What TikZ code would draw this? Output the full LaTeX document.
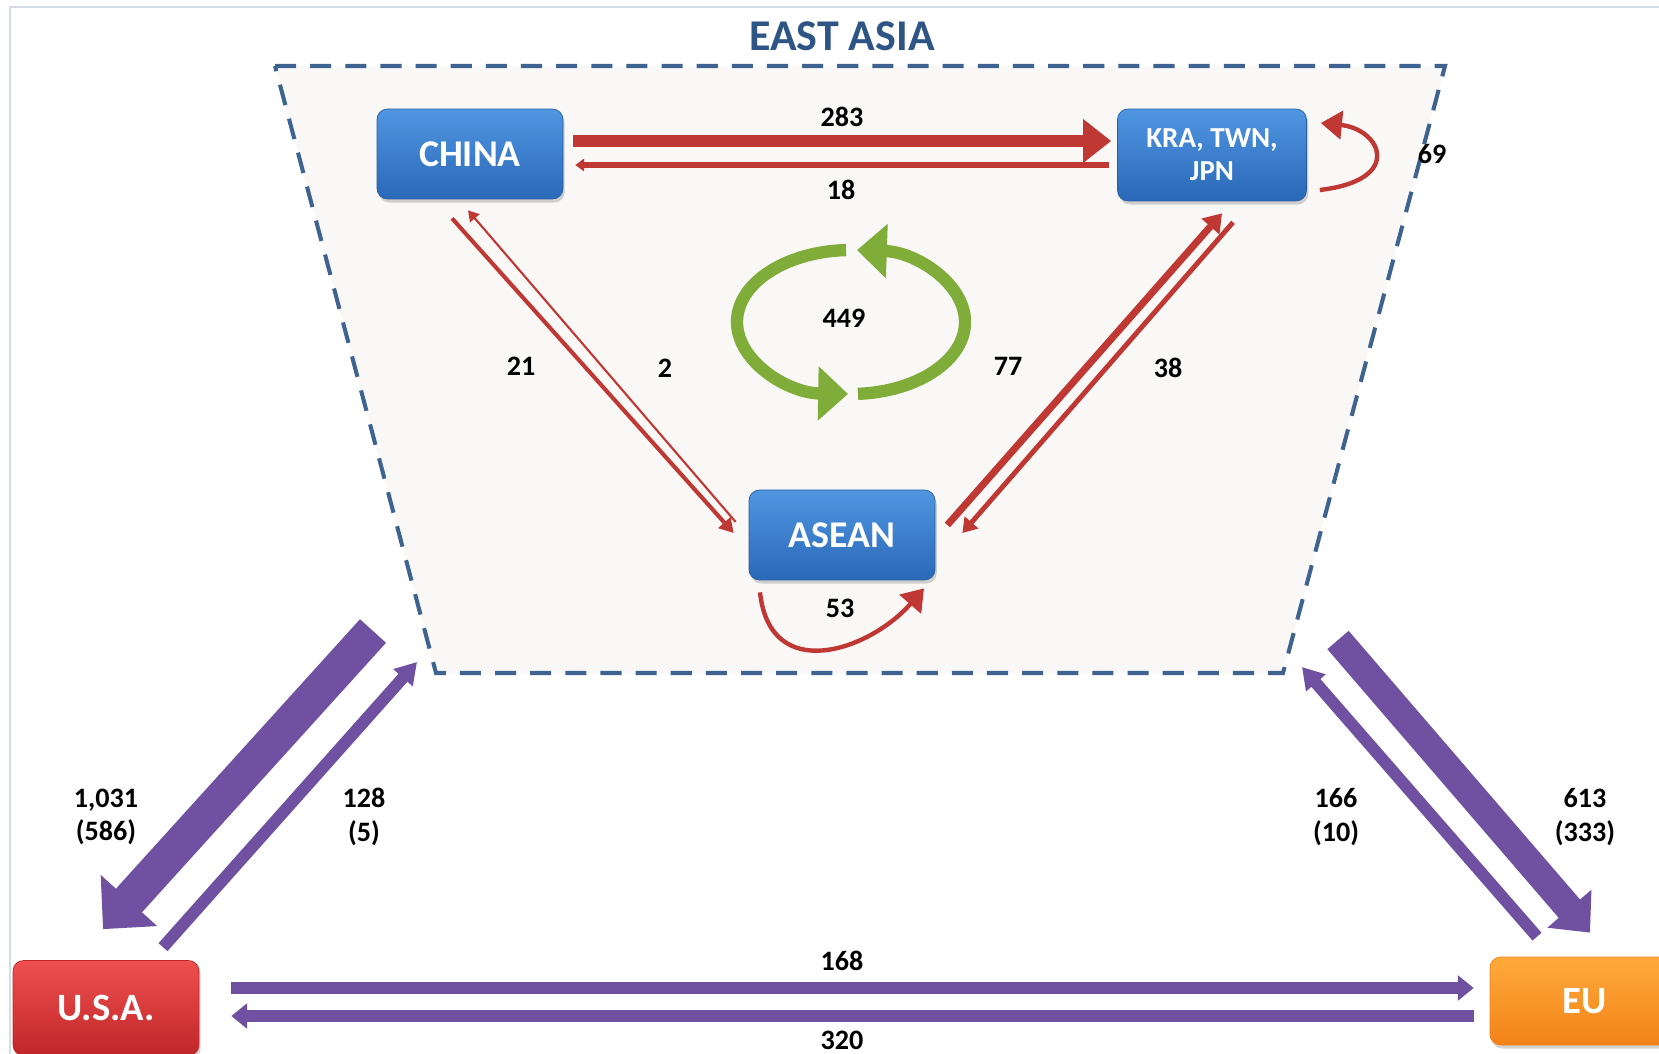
\documentclass[tikz,border=0pt]{standalone}
\usepackage{fontspec}
\setmainfont{Carlito}
\usetikzlibrary{arrows.meta,calc,shadows}

\definecolor{arrowred}{RGB}{192,56,52}
\definecolor{flowpurple}{RGB}{112,80,160}
\definecolor{cyclegreen}{RGB}{128,172,58}
\definecolor{boxtop}{RGB}{80,150,225}
\definecolor{boxbot}{RGB}{42,104,184}
\definecolor{boxline}{RGB}{40,92,165}
\definecolor{usatop}{RGB}{238,80,80}
\definecolor{usabot}{RGB}{192,38,40}
\definecolor{eutop}{RGB}{255,170,60}
\definecolor{eubot}{RGB}{242,130,24}
\definecolor{titleblue}{RGB}{46,85,134}
\definecolor{dashblue}{RGB}{62,99,144}
\definecolor{regionfill}{RGB}{250,248,246}
\definecolor{framegray}{RGB}{213,220,232}

\begin{document}
\begin{tikzpicture}[x=0.02cm, y=-0.02cm]
\tikzstyle{region}=[rounded corners=6pt, text=white, drop shadow={opacity=0.35, shadow xshift=1pt, shadow yshift=-2pt}]
\tikzstyle{asia}=[region, top color=boxtop, bottom color=boxbot, draw=boxline, minimum width=3.72cm, minimum height=1.8cm, font=\bfseries\fontsize{21.5}{24}\selectfont]
\tikzstyle{flowlabel}=[font=\bfseries\fontsize{16}{19}\selectfont, align=center]
\tikzstyle{redflow}=[draw=arrowred]
\tikzstyle{purpleflow}=[draw=flowpurple, fill=flowpurple]
%
\useasboundingbox (0,0) rectangle (1659,1054);
\draw[framegray, line width=1pt] (10,1054) -- (10,7) -- (1659,7);

% east asia area
\coordinate (tl) at (275,66);
\coordinate (tr) at (1445,66);
\coordinate (br) at (1283,673);
\coordinate (bl) at (436,673);
\draw[dashblue, fill=regionfill, line width=2.3pt, dash pattern=on 12pt off 8pt] (tl) -- (tr) -- (br) -- (bl) -- cycle;
\node[font=\bfseries\fontsize{25}{28}\selectfont, text=titleblue] (title) at (842,36) {EAST ASIA};

\node[asia] (china) at (470,154) {CHINA};
\node[asia, minimum width=3.78cm, minimum height=1.84cm, align=center, font=\bfseries\fontsize{16.5}{19}\selectfont] (kra) at (1212,155) {KRA, TWN,\\JPN};
\node[asia] (asean) at (842,535) {ASEAN};
\node[region, top color=usatop, bottom color=usabot, draw=usabot, minimum width=3.72cm, minimum height=1.9cm, font=\bfseries\fontsize{22}{24}\selectfont] (usa) at (106,1008) {U.S.A.};
\node[region, top color=eutop, bottom color=eubot, draw=eubot, minimum width=3.8cm, minimum height=1.76cm, font=\bfseries\fontsize{22}{24}\selectfont] (eu) at (1585,1001) {EU};

% flows inside east asia
\draw[redflow, line width=6.8pt, -{Triangle[length=16pt,width=24pt]}] ($(china.east)+(10,-13)$) -- ($(kra.west)+(-6,-14)$);
\draw[redflow, line width=3.4pt, -{Triangle[length=5pt,width=7pt]}] ($(kra.west)+(-8,10)$) -- ($(china.east)+(12,11)$);
\draw[redflow, line width=2.5pt, -{Triangle[length=12pt,width=16pt]}] ($(kra.east)+(13,35)$) .. controls +(85,-10) and +(60,6) .. ($(kra.east)+(14,-32)$);
\draw[redflow, line width=2.3pt, -{Triangle[length=8pt,width=9pt]}] ($(china.south)+(-18,19)$) -- ($(asean.west)+(-15,-2)$);
\draw[redflow, line width=1.2pt, -{Triangle[length=6pt,width=7pt]}] ($(asean.west)+(-13,-13)$) -- ($(china.south)+(-2,11)$);
\draw[redflow, line width=4pt, -{Triangle[length=10pt,width=13pt]}] ($(asean.east)+(12,-10)$) -- ($(kra.south)+(10,12)$);
\draw[redflow, line width=2.8pt, -{Triangle[length=8pt,width=10pt]}] ($(kra.south)+(21,21)$) -- ($(asean.east)+(27,-2)$);
\draw[redflow, line width=2.5pt, -{Triangle[length=12pt,width=16pt]}] ($(asean.south)+(-82,12)$) .. controls +(10,93) and +(-54,62) .. ($(asean.south)+(82,8)$);

% 449 cycle
\coordinate (cyc) at (851,322);
\draw[cyclegreen, line width=7pt, -{Triangle[length=17pt,width=30pt]}] (cyc) ++(267.5:114 and 72) arc[start angle=267.5, end angle=91.5, x radius=114, y radius=72];
\draw[cyclegreen, line width=7pt, -{Triangle[length=17pt,width=30pt]}] (cyc) ++(86.5:114 and 72) arc[start angle=86.5, end angle=-87, x radius=114, y radius=72];

% flows with usa and eu
\coordinate (usaout) at (373,631);
\coordinate (usain) at (417,662);
\coordinate (euout) at (1338,640);
\coordinate (euin) at (1302,667);
\draw[purpleflow, line width=20pt, -{Triangle[length=22pt,width=42pt]}] (usaout) -- ($(usa.north)+(-3,-31)$);
\draw[purpleflow, line width=6.8pt, -{Triangle[length=12pt,width=14pt]}] ($(usa.north)+(57,-13)$) -- (usain);
\draw[purpleflow, line width=16pt, -{Triangle[length=18pt,width=32pt]}] (euout) -- ($(eu.north)+(5,-24)$);
\draw[purpleflow, line width=6.8pt, -{Triangle[length=12pt,width=14pt]}] ($(eu.north)+(-48,-20)$) -- (euin);
\draw[purpleflow, line width=6.8pt, -{Triangle[length=9pt,width=14pt]}] ($(usa.east)+(32,-20)$) -- ($(eu.west)+(-16,-13)$);
\draw[purpleflow, line width=6.8pt, -{Triangle[length=9pt,width=14pt]}] ($(eu.west)+(-16,15)$) -- ($(usa.east)+(32,8)$);

% values
\node[flowlabel] (l283) at (842,117) {283};
\node[flowlabel] (l18) at (841,190) {18};
\node[flowlabel] (l69) at (1432,154) {69};
\node[flowlabel] (l21) at (521,366) {21};
\node[flowlabel] (l2) at (665,368) {2};
\node[flowlabel] (l449) at (844,318) {449};
\node[flowlabel] (l77) at (1008,366) {77};
\node[flowlabel] (l38) at (1168,368) {38};
\node[flowlabel] (l53) at (840,608) {53};
\node[flowlabel] (l1031) at (106,817) {1,031\\(586)};
\node[flowlabel] (l128) at (364,817) {128\\(5)};
\node[flowlabel] (l166) at (1336,817) {166\\(10)};
\node[flowlabel] (l613) at (1585,817) {613\\(333)};
\node[flowlabel] (l168) at (842,961) {168};
\node[flowlabel] (l320) at (842,1040) {320};
\end{tikzpicture}
\end{document}
